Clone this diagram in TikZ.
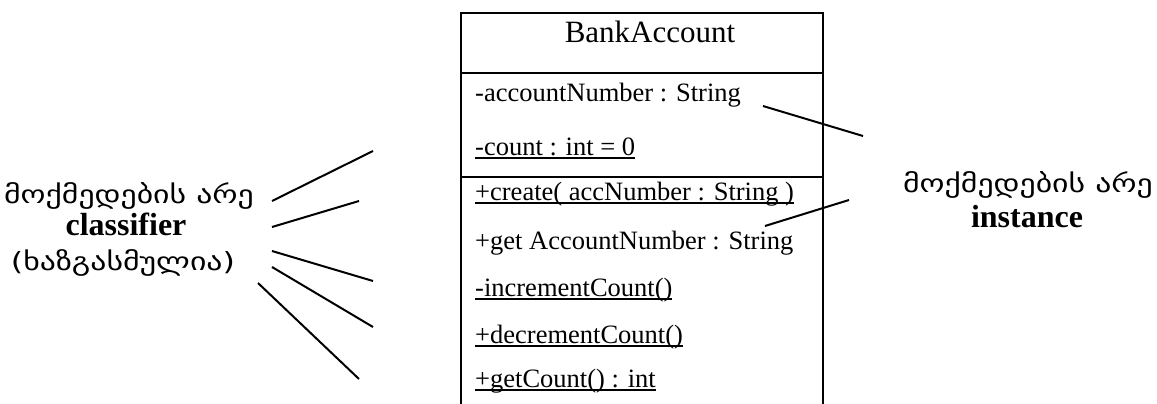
\documentclass[tikz,border=0pt]{standalone}
\usepackage{graphicx}
\usepackage{fontspec}
\setmainfont{Liberation Serif}
\newfontfamily\geo{DejaVu Sans}
\newcommand\ulx[1]{\setbox0\hbox{#1}\rlap{\rule[-3.5pt]{\wd0}{1.6pt}}\box0}
\newcommand\geow[1]{\scalebox{1.27}[1]{#1}}
\begin{document}
\begin{tikzpicture}[x=1pt,y=-1pt,
  box/.style={line width=2.6pt},
  conn/.style={line width=2pt},
  item/.style={anchor=base west,inner sep=0pt,font=\fontsize{26.5}{30}\selectfont},
  geotext/.style={anchor=base,inner sep=0pt,font=\geo\fontsize{25}{28}\selectfont},
  boldtext/.style={anchor=base,inner sep=0pt,font=\bfseries\fontsize{32}{36}\selectfont}]
\useasboundingbox (0,0) rectangle (1157,404);
% class box
\draw[box] (461,404) -- (461,13) -- (823,13) -- (823,404);
\draw[box] (461,73) -- (823,73);
\draw[box] (461,177) -- (823,177);
\node[anchor=base,inner sep=0pt,font=\fontsize{31}{34}\selectfont] (title) at (650,43) {BankAccount};
\node[item] (a1) at (475,102) {-accountNumber : String};
\node[item] (a2) at (475,155) {\ulx{-count : int = 0}};
\node[item] (m1) at (475,200) {\ulx{+create( accNumber : String )}};
\node[item] (m2) at (475,249) {+get AccountNumber : String};
\node[item] (m3) at (475,296) {\ulx{-incrementCount()}};
\node[item] (m4) at (475,343) {\ulx{+decrementCount()}};
\node[item] (m5) at (475,387) {\ulx{+getCount() : int}};
% left label
\node[geotext] (l1) at (129,203) {\geow{მოქმედების არე}};
\node[boldtext] (l2) at (126,235) {classifier};
\node[geotext] (l3) at (123,270) {\geow{(ხაზგასმულია)}};
% right label
\node[geotext] (r1) at (1028,192) {\geow{მოქმედების არე}};
\node[boldtext] (r2) at (1027,227) {instance};
% connector coordinates
\coordinate (L1a) at (272,201); \coordinate (L1b) at (373,151);
\coordinate (L2a) at (272,227); \coordinate (L2b) at (359,201);
\coordinate (L3a) at (272,251); \coordinate (L3b) at (373,281);
\coordinate (L4a) at (272,267); \coordinate (L4b) at (373,327);
\coordinate (L5a) at (258,283); \coordinate (L5b) at (359,379);
\coordinate (R1a) at (763,106); \coordinate (R1b) at (863,136);
\coordinate (R2a) at (765,226); \coordinate (R2b) at (849,200);
\draw[conn] (L1a) -- (L1b);
\draw[conn] (L2a) -- (L2b);
\draw[conn] (L3a) -- (L3b);
\draw[conn] (L4a) -- (L4b);
\draw[conn] (L5a) -- (L5b);
\draw[conn] (R1a) -- (R1b);
\draw[conn] (R2a) -- (R2b);
\end{tikzpicture}
\end{document}
